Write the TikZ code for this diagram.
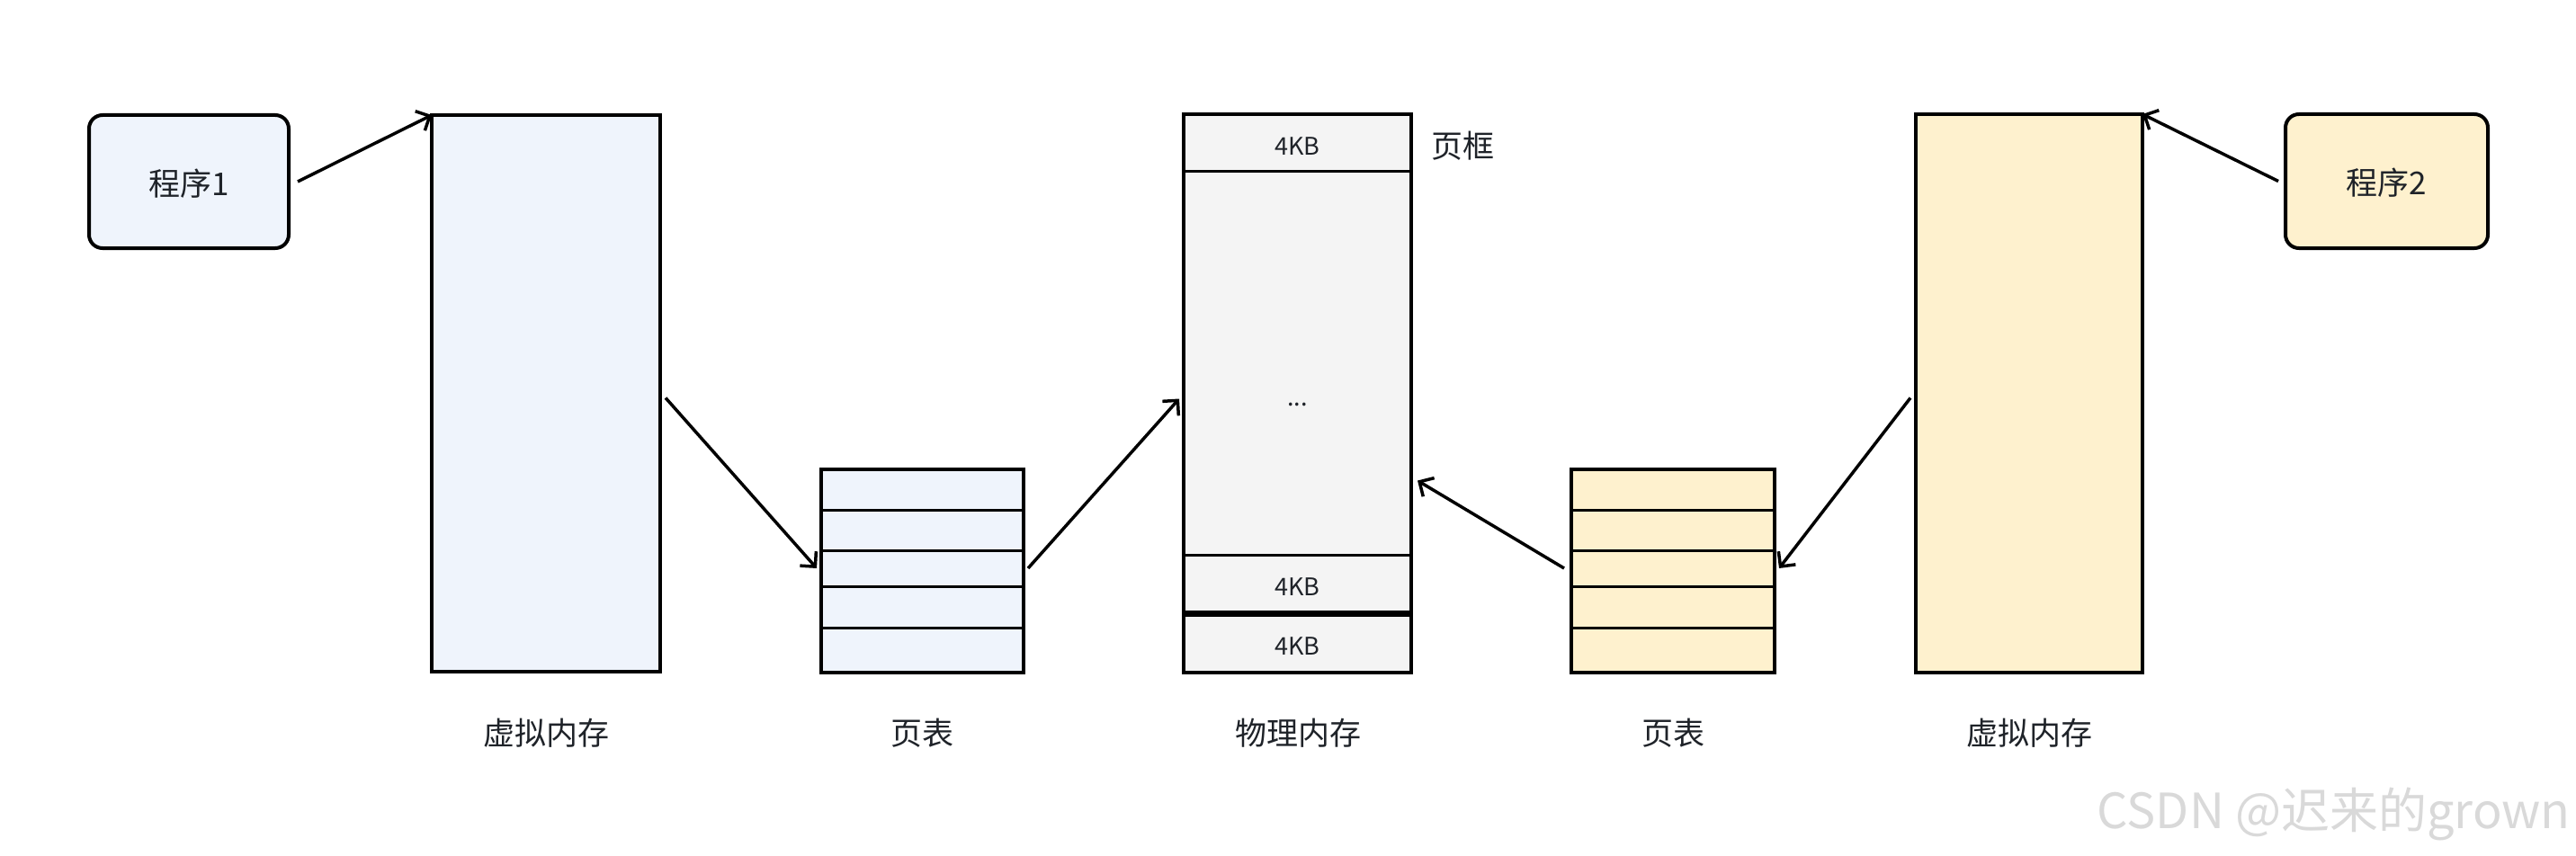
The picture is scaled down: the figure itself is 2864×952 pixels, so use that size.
\documentclass[tikz,border=0pt]{standalone}
\usepackage{fontspec}
\setmainfont{Noto Sans CJK SC}
\usetikzlibrary{arrows.meta}
\definecolor{bluefill}{HTML}{EFF4FC}
\definecolor{yellowfill}{HTML}{FEF1CE}
\definecolor{grayfill}{HTML}{F4F4F4}
\definecolor{txt}{HTML}{1F2329}
\definecolor{wm}{HTML}{D9D9D9}
\tikzset{
  box/.style={draw=black, line width=4pt, inner sep=0pt, outer sep=0pt, anchor=north west},
  prog/.style={box, rounded corners=15pt, text=txt, font=\fontsize{35}{40}\selectfont},
  cell/.style={draw=black, line width=3pt, inner sep=0pt, outer sep=0pt, anchor=north west},
  small/.style={text=txt, font=\fontsize{27}{30}\selectfont, inner sep=0pt},
  lbl/.style={text=txt, font=\fontsize{35}{40}\selectfont, inner sep=0pt},
  arr/.style={line width=3.5pt, -{Straight Barb[length=12pt,width=24pt]}}
}
\begin{document}
\begin{tikzpicture}[x=1pt,y=-1pt]
\useasboundingbox[fill=white] (0,0) rectangle (2864,952);
% programs
\node[prog, fill=bluefill, minimum width=222pt, minimum height=148pt] (prog1) at (99,128) {};
\node[lbl] (prog1t) at ([yshift=-2pt]prog1.center) {程序1};
\node[prog, fill=yellowfill, minimum width=225pt, minimum height=149pt] (prog2) at (2541,127) {};
\node[lbl] (prog2t) at ([yshift=-2pt]prog2.center) {程序2};
% virtual memories
\node[box, fill=bluefill, minimum width=254pt, minimum height=619pt] (vm1) at (480,128) {};
\node[box, fill=yellowfill, minimum width=252pt, minimum height=621pt] (vm2) at (2130,127) {};
% page table 1
\node[cell, fill=bluefill, minimum width=225pt, minimum height=45pt] (pt1a) at (913,522) {};
\node[cell, fill=bluefill, minimum width=225pt, minimum height=45pt] (pt1b) at (913,567) {};
\node[cell, fill=bluefill, minimum width=225pt, minimum height=40pt] (pt1c) at (913,612) {};
\node[cell, fill=bluefill, minimum width=225pt, minimum height=46pt] (pt1d) at (913,652) {};
\node[cell, fill=bluefill, minimum width=225pt, minimum height=50pt] (pt1e) at (913,698) {};
\draw[line width=4pt] (pt1a.north west) rectangle (pt1e.south east);
% page table 2
\node[cell, fill=yellowfill, minimum width=226pt, minimum height=45pt] (pt2a) at (1747,522) {};
\node[cell, fill=yellowfill, minimum width=226pt, minimum height=45pt] (pt2b) at (1747,567) {};
\node[cell, fill=yellowfill, minimum width=226pt, minimum height=40pt] (pt2c) at (1747,612) {};
\node[cell, fill=yellowfill, minimum width=226pt, minimum height=46pt] (pt2d) at (1747,652) {};
\node[cell, fill=yellowfill, minimum width=226pt, minimum height=50pt] (pt2e) at (1747,698) {};
\draw[line width=4pt] (pt2a.north west) rectangle (pt2e.south east);
% physical memory
\node[cell, fill=grayfill, minimum width=253pt, minimum height=64pt] (pm1) at (1316,127) {};
\node[cell, fill=grayfill, minimum width=253pt, minimum height=426pt] (pm2) at (1316,191) {};
\node[cell, fill=grayfill, minimum width=253pt, minimum height=65pt] (pm3) at (1316,617) {};
\node[cell, fill=grayfill, minimum width=253pt, minimum height=66pt] (pm4) at (1316,682) {};
\node[box, minimum width=253pt, minimum height=621pt] (pm) at (1316,127) {};
\draw[line width=7pt] (pm4.north west) -- (pm4.north east);
\node[small] (pm1t) at ([yshift=-4pt]pm1.center) {4KB};
\node[small] (pm3t) at ([yshift=-3pt]pm3.center) {4KB};
\node[small] (pm4t) at ([yshift=-4pt]pm4.center) {4KB};
\node[small] (dots) at (1442.5,450) {...};
\node[lbl, anchor=west] (frame) at (1591,162) {页框};
% labels
\node[lbl] (l1) at (607,815) {虚拟内存};
\node[lbl] (l2) at (1025,815) {页表};
\node[lbl] (l3) at (1443,815) {物理内存};
\node[lbl] (l4) at (1860,815) {页表};
\node[lbl] (l5) at (2256,815) {虚拟内存};
% arrows
\draw[arr] ([xshift=10pt]prog1.east) -- (vm1.north west);
\draw[arr] ([xshift=6pt,yshift=-5pt]vm1.east) -- ([xshift=-5pt]pt1c.west);
\draw[arr] ([xshift=5pt]pt1c.east) -- ([xshift=-5pt,yshift=-6pt]pm.west);
\draw[arr] ([xshift=-8pt]pt2c.west) -- ([xshift=7pt,yshift=-97pt]pm.east);
\draw[arr] ([xshift=-6pt,yshift=-5pt]vm2.west) -- ([xshift=5pt]pt2c.east);
\draw[arr] ([xshift=-8pt]prog2.west) -- (vm2.north east);
% watermark
\node[text=wm, font=\fontsize{54}{60}\selectfont, inner sep=0pt, anchor=east] (wmark) at (2858,905) {CSDN @迟来的grown};
\end{tikzpicture}
\end{document}
